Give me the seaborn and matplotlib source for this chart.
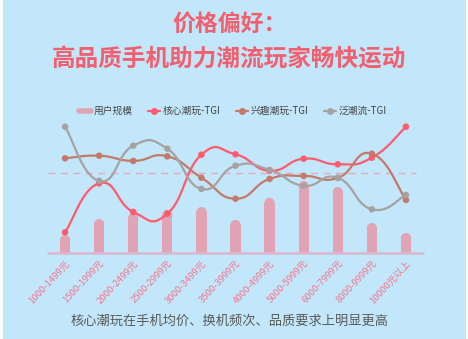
import numpy as np
import pandas as pd
import matplotlib
matplotlib.use("Agg")
import matplotlib.pyplot as plt
from matplotlib.patches import Ellipse, Rectangle
from matplotlib.lines import Line2D
import seaborn as sns

# ---- data ----
price_bands = ["1000-1499元", "1500-1999元", "2000-2499元", "2500-2999元",
               "3000-3499元", "3500-3999元", "4000-4999元", "5000-5999元",
               "6000-7999元", "8000-9999元", "10000元以上"]
user_share = [4.5, 8.5, 10.0, 10.8, 11.5, 8.3, 13.8, 18.0, 16.5, 7.5, 5.0]
core_tgi = [70.2, 94.7, 80.4, 79.5, 109.0, 109.2, 101.0, 107.0, 104.2, 107.5, 123.0]
interest_tgi = [107.2, 108.5, 105.9, 108.2, 97.5, 87.0, 96.9, 98.4, 97.4, 109.5, 86.4]
trend_tgi = [123.0, 95.9, 113.5, 112.0, 91.9, 103.5, 101.4, 93.5, 97.4, 81.7, 88.9]

series_names = ["核心潮玩-TGI", "兴趣潮玩-TGI", "泛潮流-TGI"]
series_values = [core_tgi, interest_tgi, trend_tgi]
series_colors = ["#FF5A6E", "#C27A6B", "#A7A2A2"]

BG = "#C2E6FA"
BAR = "#E2A4B5"
TITLE = "#F2606F"

sns.set_theme(style="white")
plt.rcParams["font.family"] = ["Noto Sans CJK SC", "DejaVu Sans"]
plt.rcParams["axes.unicode_minus"] = False

W, H = 468, 339
fig = plt.figure(figsize=(W / 100, H / 100), dpi=100, facecolor="white")
fig.patches.append(Rectangle((3 / W, 0), 463 / W, 1, transform=fig.transFigure,
                             facecolor=BG, edgecolor="none", zorder=-10))

left, right, bottom, top = 48, 423, 253, 120
ax = fig.add_axes([left / W, 1 - bottom / H, (right - left) / W, (bottom - top) / H])
ax2 = ax.twinx()
for a in (ax, ax2):
    a.set_facecolor("none")
    for s in a.spines.values():
        s.set_visible(False)
ax.set_zorder(2)
ax2.set_zorder(1)

x = np.arange(len(price_bands))

# ---- bars (rounded top) on secondary axis ----
bar_df = pd.DataFrame({"band": price_bands, "share": user_share})
sns.barplot(data=bar_df, x="band", y="share", ax=ax2, color=BAR, width=0.3,
            saturation=1, edgecolor="none")
ymax_bar = 33.25
ax2.set_ylim(0, ymax_bar)
ax2.set_xlim(-0.5, len(price_bands) - 0.5)
bar_w_px = 0.3 * (right - left) / len(price_bands)
r_data = (bar_w_px / 2) * ymax_bar / (bottom - top)
for p, v in zip(ax2.patches, user_share):
    p.set_height(v - r_data)
    cx = p.get_x() + p.get_width() / 2
    ax2.add_patch(Ellipse((cx, v - r_data), p.get_width(), 2 * r_data,
                          facecolor=BAR, edgecolor="none"))
ax2.set_yticks([])
ax2.set_ylabel("")
ax2.set_xlabel("")

# ---- TGI lines ----
def smooth(xs, ys, n=30, t=0.5):
    xs = np.asarray(xs, float); ys = np.asarray(ys, float)
    px, py = [], []
    for i in range(len(xs) - 1):
        x0, y0 = xs[i], ys[i]
        x1, y1 = xs[i + 1], ys[i + 1]
        xp, yp = (xs[i - 1], ys[i - 1]) if i > 0 else (x0, y0)
        xn, yn = (xs[i + 2], ys[i + 2]) if i + 2 < len(xs) else (x1, y1)
        c1 = (x0 + (x1 - xp) * t / 2, y0 + (y1 - yp) * t / 2)
        c2 = (x1 - (xn - x0) * t / 2, y1 - (yn - y0) * t / 2)
        s = np.linspace(0, 1, n)
        bx = (1 - s) ** 3 * x0 + 3 * (1 - s) ** 2 * s * c1[0] + 3 * (1 - s) * s ** 2 * c2[0] + s ** 3 * x1
        by = (1 - s) ** 3 * y0 + 3 * (1 - s) ** 2 * s * c1[1] + 3 * (1 - s) * s ** 2 * c2[1] + s ** 3 * y1
        px.extend(bx); py.extend(by)
    return np.array(px), np.array(py)

for name, vals, col in zip(series_names, series_values, series_colors):
    sx, sy = smooth(x, vals)
    sns.lineplot(x=sx, y=sy, ax=ax, color=col, lw=1.6, sort=False, estimator=None)
    sns.scatterplot(x=x, y=vals, ax=ax, color=col, s=22, edgecolor="none", zorder=5)

ax.axhline(100, xmin=0.0, xmax=0.98, color="#E8A9BE", lw=1, ls=(0, (5, 4)), zorder=1)
ax.set_xlim(-0.5, len(price_bands) - 0.5)
ax.set_ylim(59.85, 126.35)
ax.set_yticks([])
ax.plot([0, 1], [0, 0], transform=ax.transAxes, color="#D9B7CF", lw=1.8,
        clip_on=False, zorder=3)

ax.set_xticks(x)
ax.set_xticklabels(price_bands, rotation=47, ha="right", va="top",
                   rotation_mode="anchor", fontsize=6.8, color="#F4768C")
ax.tick_params(axis="x", length=0, pad=4)
ax2.tick_params(axis="x", length=0, labelbottom=False)

# ---- legend ----
handles = [Line2D([], [], color=BAR, lw=4)]
for name, col in zip(series_names, series_colors):
    handles.append(Line2D([], [], color=col, lw=1.6, marker="o", markersize=4))
fig.legend(handles, ["用户规模"] + series_names, loc="center",
           bbox_to_anchor=(233 / W, 1 - 111 / H), ncol=4, frameon=False,
           fontsize=7, handlelength=1.2, handletextpad=0.3, columnspacing=1.6,
           labelcolor="#444444")

# ---- titles ----
fig.text(0.49, 1 - 24 / H, "价格偏好：", ha="center", va="center",
         fontsize=16.5, fontweight="bold", color=TITLE)
fig.text(0.49, 1 - 59 / H, "高品质手机助力潮流玩家畅快运动", ha="center", va="center",
         fontsize=17, fontweight="bold", color=TITLE)
fig.text(0.4915, 1 - 321 / H, "核心潮玩在手机均价、换机频次、品质要求上明显更高",
         ha="center", va="center", fontsize=9.5, color="#5A5A5A")

fig.savefig("out.png", dpi=100, facecolor=fig.get_facecolor())
